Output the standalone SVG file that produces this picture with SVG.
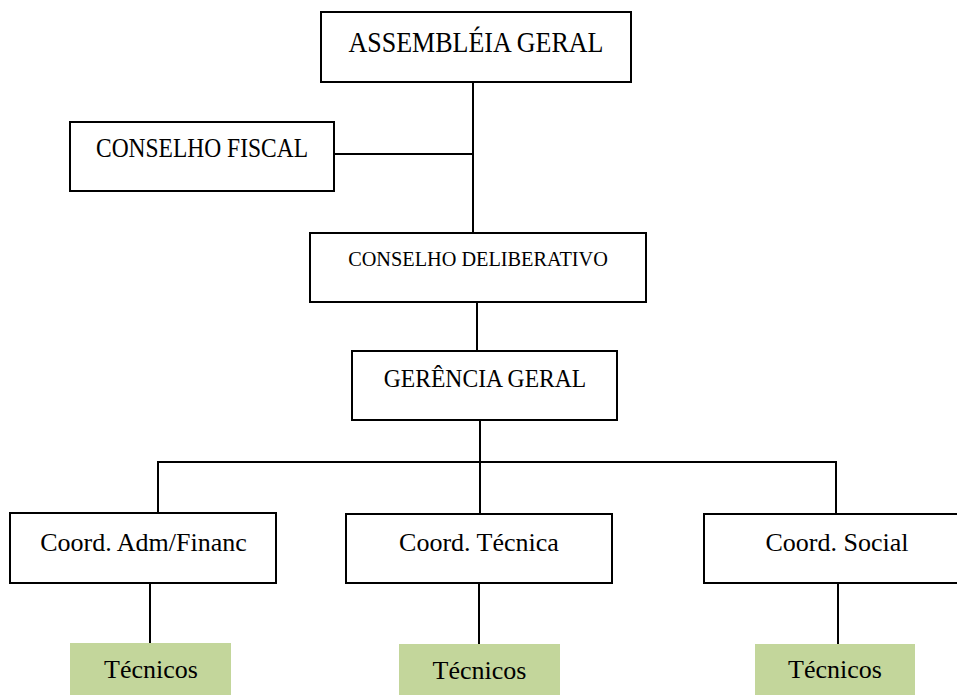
<svg xmlns="http://www.w3.org/2000/svg" width="957" height="695" viewBox="0 0 957 695">
<style>
.box{fill:#ffffff;stroke:#000;stroke-width:2}
.green{fill:#c3d69b;stroke:none}
.ln{stroke:#000;stroke-width:2;fill:none}
text{font-family:"Liberation Serif","Times New Roman",serif;fill:#000;text-anchor:middle}
</style>
<rect width="957" height="695" fill="#fff"/>
<g id="connectors">
<path class="ln" d="M473 82V233"/>
<path class="ln" d="M334 154H473"/>
<path class="ln" d="M477 302V351"/>
<path class="ln" d="M480 420V462"/>
<path class="ln" d="M157 462H836"/>
<path class="ln" d="M158 461V513"/>
<path class="ln" d="M480 462V514"/>
<path class="ln" d="M836 461V514"/>
<path class="ln" d="M150 583V644"/>
<path class="ln" d="M479 583V644"/>
<path class="ln" d="M838 583V644"/>
</g>
<g id="assembleia">
<rect class="box" x="321" y="12" width="310" height="70"/>
<text transform="translate(476 52) scale(1 1.13)" font-size="26">ASSEMBLÉIA GERAL</text>
</g>
<g id="conselho-fiscal">
<rect class="box" x="70" y="122" width="264" height="69"/>
<text transform="translate(202 157) scale(1 1.14)" font-size="23.5">CONSELHO FISCAL</text>
</g>
<g id="conselho-deliberativo">
<rect class="box" x="310" y="233" width="336" height="69"/>
<text transform="translate(478 266) scale(1 1.05)" font-size="20.3">CONSELHO DELIBERATIVO</text>
</g>
<g id="gerencia">
<rect class="box" x="352" y="351" width="265" height="69"/>
<text transform="translate(485 387) scale(1 1.09)" font-size="23.6">GERÊNCIA GERAL</text>
</g>
<g id="coord-adm">
<rect class="box" x="10" y="513" width="266" height="70"/>
<text x="143.5" y="551" font-size="26">Coord. Adm/Financ</text>
</g>
<g id="coord-tecnica">
<rect class="box" x="346" y="514" width="266" height="69"/>
<text x="479" y="551" font-size="26">Coord. Técnica</text>
</g>
<g id="coord-social">
<rect class="box" x="704" y="514" width="266" height="69"/>
<text x="837" y="551" font-size="26">Coord. Social</text>
</g>
<g id="tecnicos-1">
<rect class="green" x="70" y="643" width="161" height="52"/>
<text x="151" y="678" font-size="26">Técnicos</text>
</g>
<g id="tecnicos-2">
<rect class="green" x="399" y="644" width="161" height="51"/>
<text x="479.5" y="679" font-size="26">Técnicos</text>
</g>
<g id="tecnicos-3">
<rect class="green" x="755" y="644" width="160" height="51"/>
<text x="835" y="678" font-size="26">Técnicos</text>
</g>
</svg>
